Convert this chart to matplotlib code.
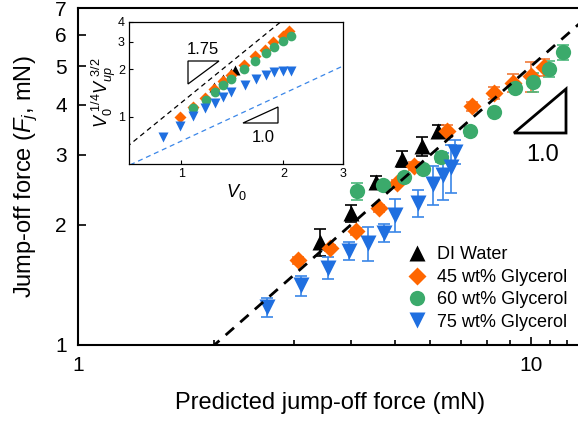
import numpy as np
import matplotlib
matplotlib.use("Agg")
import matplotlib.pyplot as plt
from matplotlib.ticker import FixedLocator, NullFormatter, NullLocator
from matplotlib.patches import Polygon
from matplotlib.lines import Line2D

plt.rcParams['font.family'] = ['Liberation Sans', 'DejaVu Sans']
plt.rcParams['mathtext.fontset'] = 'custom'
plt.rcParams['mathtext.rm'] = 'Liberation Sans'
plt.rcParams['mathtext.it'] = 'Liberation Sans:italic'

# ---------------- main data ----------------
water_x = [3.42, 4.00, 4.54, 5.19, 5.75, 6.23]
water_y = [1.81, 2.14, 2.56, 2.93, 3.15, 3.44]
water_e = [0.14, 0.10, 0.09, 0.14, 0.17, 0.12]

g45_x = [3.06, 3.60, 4.11, 4.62, 5.06, 5.52, 6.53, 7.41, 8.28, 9.12, 10.0, 10.7]
g45_y = [1.63, 1.75, 1.93, 2.20, 2.55, 2.81, 3.44, 3.97, 4.28, 4.54, 4.72, 4.97]
g45_e = [0.03, 0.03, 0.04, 0.05, 0.05, 0.06, 0.12, 0.10, 0.15, 0.24, 0.40, 0.25]

g60_x = [4.13, 4.71, 5.24, 5.77, 6.33, 7.34, 8.29, 9.22, 10.1, 10.96, 11.77]
g60_y = [2.43, 2.52, 2.64, 2.76, 2.96, 3.44, 3.84, 4.41, 4.56, 4.92, 5.42]
g60_e = [0.12, 0.05, 0.05, 0.06, 0.08, 0.09, 0.06, 0.10, 0.26, 0.22, 0.24]

g75_x = [2.61, 3.11, 3.56, 3.97, 4.37, 4.74, 5.01, 5.63, 6.08, 6.39, 6.66, 6.80]
g75_y = [1.245, 1.41, 1.56, 1.72, 1.80, 1.91, 2.12, 2.27, 2.53, 2.67, 2.79, 3.05]
g75_e = [0.07, 0.08, 0.10, 0.09, 0.18, 0.10, 0.20, 0.18, 0.28, 0.36, 0.38, 0.21]

labels = ['DI Water', '45 wt% Glycerol', '60 wt% Glycerol', '75 wt% Glycerol']

fit_x = [1.0, 13.0]
fit_slope_coef = 0.5

# ---------------- inset data ----------------
in45_x = [0.99, 1.085, 1.17, 1.25, 1.33, 1.40, 1.53, 1.65, 1.77, 1.87, 1.99, 2.08]
in45_y = [1.00, 1.16, 1.32, 1.51, 1.68, 1.83, 2.12, 2.42, 2.65, 2.98, 3.26, 3.51]
in60_x = [1.085, 1.18, 1.26, 1.33, 1.40, 1.53, 1.65, 1.78, 1.88, 2.00, 2.10]
in60_y = [1.13, 1.28, 1.43, 1.58, 1.73, 2.00, 2.25, 2.53, 2.77, 3.03, 3.26]
in75_x = [0.885, 0.99, 1.085, 1.17, 1.26, 1.33, 1.40, 1.545, 1.66, 1.78, 1.88, 2.00, 2.10]
in75_y = [0.744, 0.875, 1.01, 1.13, 1.23, 1.34, 1.43, 1.60, 1.73, 1.83, 1.92, 1.94, 1.94]
inw_x = [1.25, 1.33, 1.40, 1.44]
inw_y = [1.55, 1.73, 1.90, 1.98]
in_line_x = [0.6, 3.2]
in_black_coef, in_black_exp = 1.23, 1.75
in_blue_coef, in_blue_exp = 0.70, 1.0

BLACK = '#000000'
ORANGE = '#FF6600'
GREEN = '#3BAA6B'
BLUE = '#1F6FE0'
ORANGE_E = '#F07A3A'
GREEN_E = '#4DB87B'
BLUE_E = '#3A86E8'

fig = plt.figure(figsize=(5.78, 4.24), dpi=100)
ax = fig.add_axes([78/578, 79/424, (582.6-78)/578, 337/424])
ax.set_xscale('log')
ax.set_yscale('log')

ms = 11
ax.errorbar(water_x, water_y, yerr=water_e, fmt='^', color=BLACK, ms=ms, mec='none',
            ecolor=BLACK, elinewidth=1.2, capsize=4, capthick=1.2, zorder=3)
ax.errorbar(g45_x, g45_y, yerr=g45_e, fmt='D', color=ORANGE, ms=ms*0.85, mec='none',
            ecolor=ORANGE_E, elinewidth=1.2, capsize=4, capthick=1.2, zorder=3)
ax.errorbar(g60_x, g60_y, yerr=g60_e, fmt='o', color=GREEN, ms=ms, mec='none',
            ecolor=GREEN_E, elinewidth=1.2, capsize=4, capthick=1.2, zorder=3)
ax.errorbar(g75_x, g75_y, yerr=g75_e, fmt='v', color=BLUE, ms=ms, mec='none',
            ecolor=BLUE_E, elinewidth=1.2, capsize=4, capthick=1.2, zorder=3)

fx = np.array(fit_x)
ax.plot(fx, fit_slope_coef*fx, color='black', lw=2, dashes=(4, 3), zorder=5)

ax.set_xlim(1, 13)
ax.set_ylim(1, 7)
ax.xaxis.set_major_locator(FixedLocator([1, 10]))
ax.xaxis.set_minor_locator(FixedLocator([2, 3, 4, 5, 6, 7, 8, 9, 11, 12]))
ax.xaxis.set_minor_formatter(NullFormatter())
ax.set_xticklabels(['1', '10'])
ax.yaxis.set_major_locator(FixedLocator([1, 2, 3, 4, 5, 6, 7]))
ax.yaxis.set_minor_locator(NullLocator())
ax.set_yticklabels(['1', '2', '3', '4', '5', '6', '7'])
ax.tick_params(axis='both', which='major', direction='in', length=6, width=1.2, labelsize=15, pad=8)
ax.tick_params(axis='both', which='minor', direction='in', length=3.5, width=1.2)
for s in ax.spines.values():
    s.set_linewidth(1.5)

ax.set_xlabel('Predicted jump-off force (mN)', fontsize=17, labelpad=12)
ax.set_ylabel(r'Jump-off force ($\mathit{F_j}$, mN)', fontsize=17, labelpad=11)

handles = [
    Line2D([], [], ls='none', marker='^', color=BLACK, ms=11, mec='none'),
    Line2D([], [], ls='none', marker='D', color=ORANGE, ms=9.5, mec='none'),
    Line2D([], [], ls='none', marker='o', color=GREEN, ms=11, mec='none'),
    Line2D([], [], ls='none', marker='v', color=BLUE, ms=11, mec='none'),
]
ax.legend(handles, labels, loc='lower right', bbox_to_anchor=(0.995, 0.005), frameon=False,
          fontsize=13, handletextpad=0.5, labelspacing=0.3, borderaxespad=0.3, handlelength=1.2)

# slope triangle main
fig.patches.append(Polygon([[514/578, 1-133/424], [566/578, 1-89/424], [566/578, 1-133/424]],
                           closed=True, fill=False, ec='black', lw=2, transform=fig.transFigure))
fig.text(543/578, 1-155/424, '1.0', fontsize=17, ha='center', va='center')

# ---------------- inset ----------------
ia = fig.add_axes([129/578, 1-164/424, 214/578, 142/424])
ia.set_xscale('log')
ia.set_yscale('log')
ims = 7
ia.plot(inw_x, inw_y, '^', color=BLACK, ms=ims, mec='none', zorder=2)
ia.plot(in45_x, in45_y, 'D', color=ORANGE, ms=ims*0.85, mec='none', zorder=3)
ia.plot(in60_x, in60_y, 'o', color=GREEN, ms=ims, mec='none', zorder=4)
ia.plot(in75_x, in75_y, 'v', color=BLUE, ms=ims, mec='none', zorder=4)
lx = np.array(in_line_x)
ia.plot(lx, in_black_coef*lx**in_black_exp, color='black', lw=0.9, dashes=(4, 3), zorder=1)
ia.plot(lx, in_blue_coef*lx**in_blue_exp, color=BLUE_E, lw=0.9, dashes=(4, 3), zorder=1)
ia.set_xlim(0.70, 3)
ia.set_ylim(0.5, 4)
ia.xaxis.set_major_locator(FixedLocator([1, 2, 3]))
ia.xaxis.set_minor_locator(NullLocator())
ia.set_xticklabels(['1', '2', '3'])
ia.yaxis.set_major_locator(FixedLocator([1, 2, 3, 4]))
ia.yaxis.set_minor_locator(NullLocator())
ia.set_yticklabels(['1', '2', '3', '4'])
ia.tick_params(axis='both', direction='in', length=3, width=0.8, labelsize=9, pad=3)
for s in ia.spines.values():
    s.set_linewidth(0.9)
ia.set_xlabel(r'$V_0$', fontsize=13, labelpad=1)
ia.set_ylabel(r'$V_0^{\ 1/4}V_{up}^{\ 3/2}$', fontsize=13, labelpad=0)

fig.patches.append(Polygon([[188/578, 1-61/424], [219/578, 1-61/424], [188/578, 1-84/424]],
                           closed=True, fill=False, ec='black', lw=0.9, transform=fig.transFigure, zorder=10))
fig.text(203/578, 1-49/424, '1.75', fontsize=12, ha='center', va='center')
fig.patches.append(Polygon([[243/578, 1-123/424], [278/578, 1-107/424], [278/578, 1-123/424]],
                           closed=True, fill=False, ec='black', lw=0.9, transform=fig.transFigure, zorder=10))
fig.text(263/578, 1-137/424, '1.0', fontsize=12, ha='center', va='center')

fig.savefig('out.png', dpi=100)
